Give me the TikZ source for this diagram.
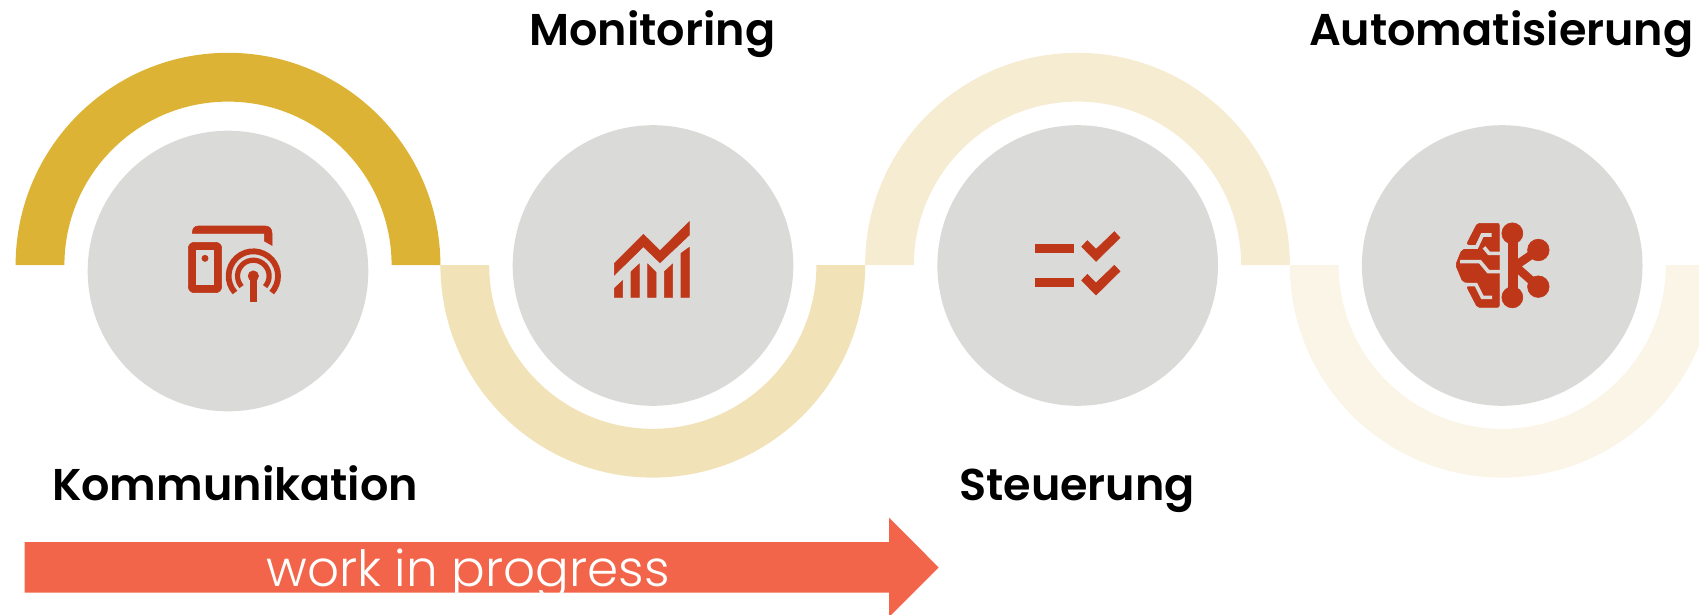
\documentclass[tikz,border=0pt]{standalone}
\usepackage{fontspec}
\setmainfont{Poppins}[BoldFont={Poppins SemiBold}]
\newfontfamily\lightfont{Poppins Light}
\definecolor{goldA}{HTML}{DDB335}
\definecolor{goldB}{HTML}{F1E2B8}
\definecolor{goldC}{HTML}{F6ECD2}
\definecolor{goldD}{HTML}{FAF5E7}
\definecolor{disc}{HTML}{DADAD8}
\definecolor{icon}{HTML}{BF3719}
\definecolor{banner}{HTML}{F2654A}
\tikzset{
  stage/.style={circle,fill=disc,draw=none,minimum size=280.6pt,inner sep=0pt},
  title/.style={anchor=base,inner sep=0pt,font=\fontsize{44.5}{44.5}\selectfont\bfseries,text=black},
  zoomgrid/.style={x=0.33333pt,y=-0.33333pt},
  ico/.style={fill=icon,draw=icon,line width=0.6pt},
  gap/.style={draw=disc,line width=3.6pt,line join=miter,fill=none}
}
\newcommand{\arcup}[2]{% cx, colour
  \fill[#2] (#1-212.4,265.2) arc[start angle=180,end angle=0,radius=212.4pt]
    -- (#1+163.6,265.2) arc[start angle=0,end angle=180,radius=163.6pt] -- cycle;}
\newcommand{\arcdown}[2]{%
  \fill[#2] (#1-212.4,265.2) arc[start angle=180,end angle=360,radius=212.4pt]
    -- (#1+163.6,265.2) arc[start angle=360,end angle=180,radius=163.6pt] -- cycle;}
\begin{document}
\begin{tikzpicture}[x=1pt,y=-1pt]
\useasboundingbox (0,0) rectangle (1699,614);
\clip (0,0) rectangle (1699,614);
\arcup{228}{goldA}
\arcdown{652.8}{goldB}
\arcup{1077.5}{goldC}
\arcdown{1502.2}{goldD}
\node[stage] (kommdisc) at (228,271) {};
\node[stage] (mondisc) at (653,265.5) {};
\node[stage] (steudisc) at (1077.7,265.5) {};
\node[stage] (autodisc) at (1502.2,265.5) {};
% icon 1
\begin{scope}[shift={(150,190)},zoomgrid]
  \path[ico] (127,130) .. controls (127,116) and (133,108) .. (145,108) -- (345,108)
     .. controls (358,108) and (366,116) .. (366,130) -- (366,166) -- (343,153) -- (343,130) -- cycle;
  \path[ico,rounded corners=6pt] (115,157) rectangle (215,308);
  \fill[disc] (138,180) rectangle (192,285);
  \path[ico] (165,205) circle[radius=3.1pt];
  \draw[icon,line width=5.8pt] (310,258) ++(222:24.7pt) arc[start angle=222,end angle=-42,radius=24.7pt];
  \draw[icon,line width=5.2pt] (310,258) ++(222:15.8pt) arc[start angle=222,end angle=-42,radius=15.8pt];
  \path[ico] (310,258) circle[radius=5.2pt];
  \path[ico] (300,258) rectangle (320,335);
\end{scope}
% icon 2
\begin{scope}[shift={(580,190)},zoomgrid]
  \path[ico] (103,220) -- (190,133) -- (240,182) -- (328,95) -- (328,135) -- (240,218) -- (190,170) -- (103,255) -- cycle;
  \path[ico] (103,322) -- (103,295) -- (128,272) -- (128,322) -- cycle;
  \path[ico] (153,322) -- (153,245) -- (178,222) -- (178,322) -- cycle;
  \path[ico] (203,322) -- (203,222) -- (228,247) -- (228,322) -- cycle;
  \path[ico] (253,322) -- (253,245) -- (278,222) -- (278,322) -- cycle;
  \path[ico] (303,322) -- (303,190) -- (328,172) -- (328,322) -- cycle;
\end{scope}
% icon 3
\begin{scope}[shift={(1000,190)},zoomgrid]
  \path[ico] (105,163) rectangle (220,188);
  \path[ico] (105,264) rectangle (220,289);
  \path[ico] (262,152) -- (288,178) -- (343,125) -- (360,143) -- (288,214) -- (245,170) -- cycle;
  \path[ico] (262,253) -- (288,279) -- (343,226) -- (360,244) -- (288,315) -- (245,271) -- cycle;
\end{scope}
% icon 4
\begin{scope}[shift={(1420,190)},zoomgrid]
  \path[ico] (265,130) rectangle (291,322);
  \draw[icon,line width=8.5pt] (285,228) -- (355,180);
  \draw[icon,line width=8.5pt] (285,228) -- (355,290);
  \path[ico] (277,130) circle[radius=10.5pt];
  \path[ico] (277,322) circle[radius=10.5pt];
  \path[ico] (355,180) circle[radius=10.8pt];
  \path[ico] (355,290) circle[radius=10.8pt];
  \path[ico,rounded corners=2pt] (172,100) -- (238,100) -- (238,352) -- (172,352) -- (140,290) -- (165,282) -- (128,275) -- (107,225) -- (125,180) -- (165,172) -- (140,162) -- cycle;
  \draw[gap] (125,171) -- (170,171) -- (187,135) -- (215,135);
  \draw[gap] (192,172) -- (207,190) -- (242,190);
  \draw[gap] (120,215) -- (180,215) -- (205,245) -- (242,245);
  \draw[gap] (125,284) -- (168,284) -- (187,322) -- (216,322);
\end{scope}
% titles
\node[title] (monitoring) at (652.3,45.5) {Monitoring};
\node[title] (automat) at (1501.2,45.5) {Automatisierung};
\node[title] (komm) at (235,500) {Kommunikation};
\node[title] (steuerung) at (1077,500) {Steuerung};
% arrow
\fill[banner] (24.5,542.2) -- (889,542.2) -- (889,517.6) -- (938.7,567.5) -- (889,617) -- (889,592.6) -- (24.5,592.6) -- cycle;
\node[anchor=base,inner sep=0pt,text=white,font=\lightfont\fontsize{50}{50}\selectfont] (wip) at (468,586) {work in progress};
\end{tikzpicture}
\end{document}
